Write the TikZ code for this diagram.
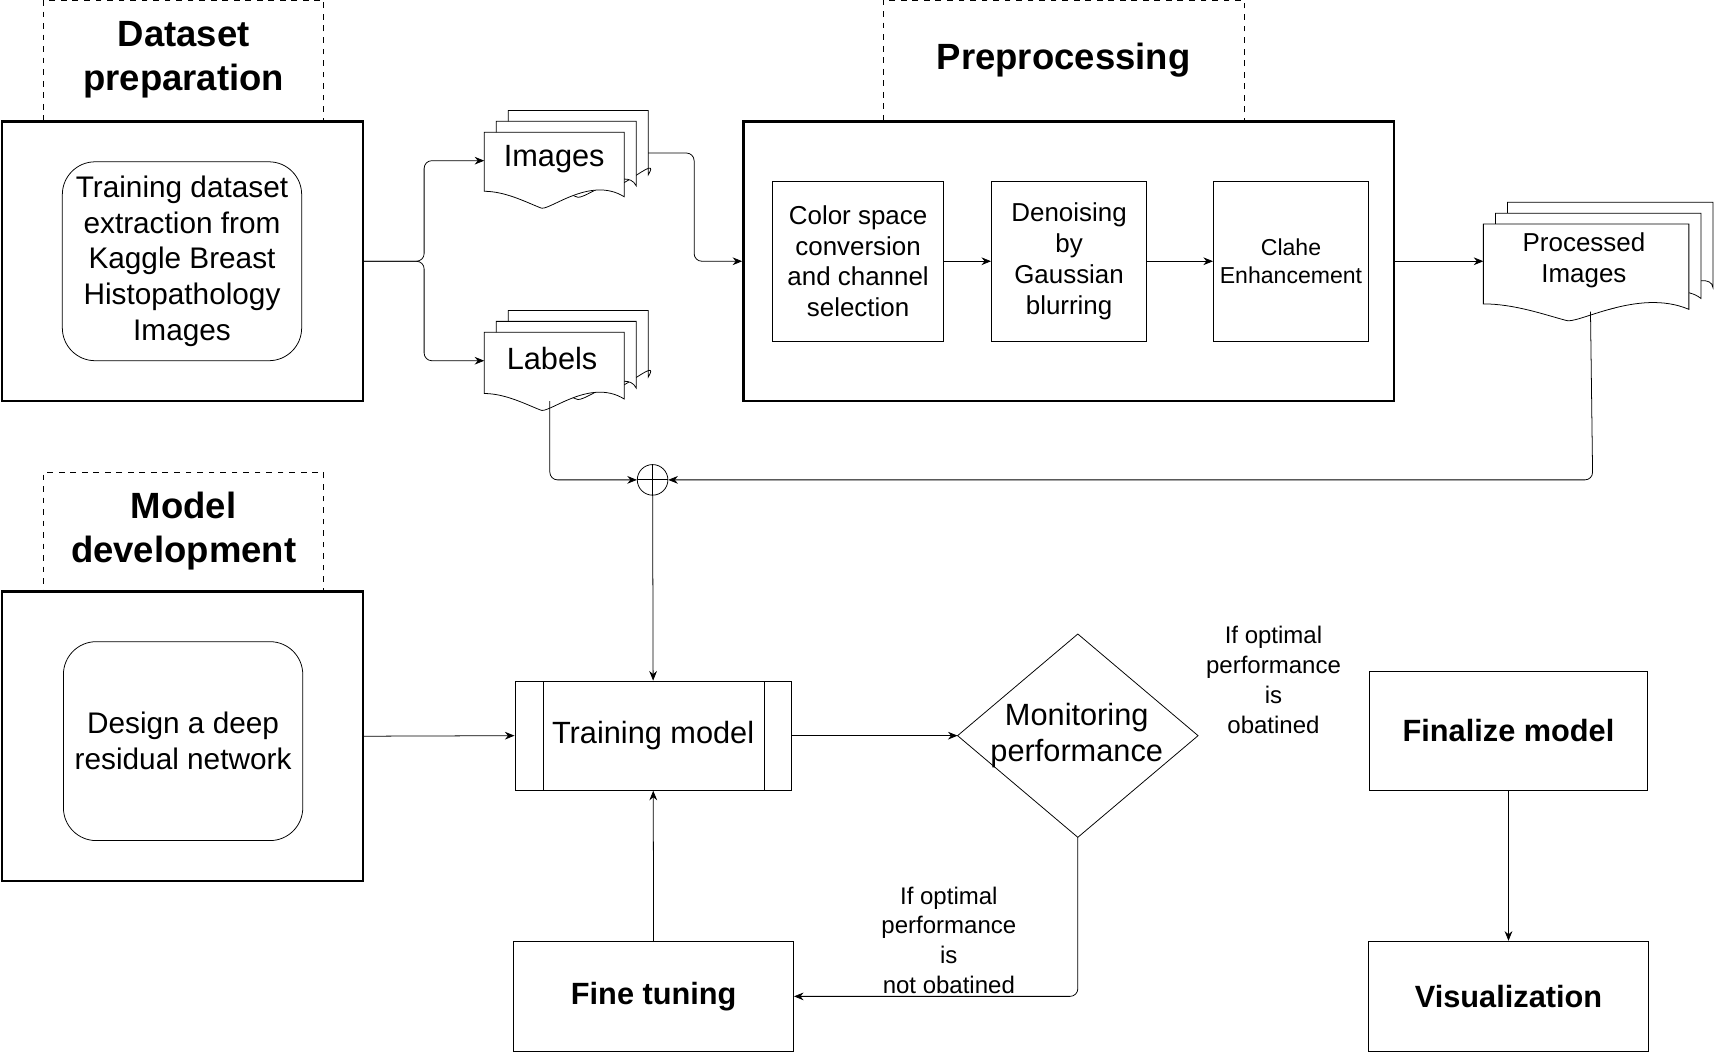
\documentclass[tikz,border=0pt]{standalone}
\usepackage{fontspec}
\setmainfont{Liberation Sans}
\usetikzlibrary{arrows.meta}
\tikzset{
  box/.style={draw, inner sep=0pt, align=center},
  bigbox/.style={box, line width=1.2pt},
  tagbox/.style={box, dashed, font=\fontsize{19}{23}\selectfont\bfseries},
  round/.style={box, rounded corners=0.6cm, font=\fontsize{15.5}{18.6}\selectfont},
  small/.style={box, font=\fontsize{13.5}{16}\selectfont},
  note/.style={align=center, font=\fontsize{12.5}{15.5}\selectfont},
  conn/.style={-{Stealth[length=5pt,width=4pt]}, rounded corners=4pt},
}
% document stack: front x1 y1 x2 y2
\newcommand\docpath[4]{%
  \filldraw[fill=white] (#1,#2) -- (#3,#2) -- (#3,#4-10)
    .. controls (#1+0.75*#3-0.75*#1,#4-30) and (#1+0.45*#3-0.45*#1,#4+5) .. (#1+0.4*#3-0.4*#1,#4)
    .. controls (#1+0.3*#3-0.3*#1,#4-5) and (#1+0.15*#3-0.15*#1,#4-15) .. (#1,#4-15) -- cycle;}
\newcommand\docstack[4]{%
  \docpath{#1+22}{#2-20}{#3+22}{#4-20}
  \docpath{#1+11}{#2-10}{#3+11}{#4-10}
  \docpath{#1}{#2}{#3}{#4}}
\begin{document}
\begin{tikzpicture}[x=0.02cm, y=-0.02cm]
\useasboundingbox (0,0) rectangle (1568,962);
% dataset preparation
\node[tagbox, minimum width=5.12cm, minimum height=2.2cm] (dtag) at (168,55) {Dataset\\preparation};
\node[bigbox, minimum width=6.6cm, minimum height=5.12cm] (dset) at (167,239) {};
\node[round, minimum width=4.38cm, minimum height=3.64cm] (dtext) at (166.5,239)
  {Training dataset\\extraction from\\Kaggle Breast\\Histopathology\\Images};
% images and labels
\docstack{443}{121}{571}{190}
\node[font=\fontsize{16}{19}\selectfont] (img) at (507,146) {Images};
\coordinate (imgw) at (443,147);
\coordinate (imge) at (593,140);
\docstack{443}{304}{571}{375}
\node[font=\fontsize{16}{19}\selectfont] (lab) at (505,328) {Labels};
\coordinate (labw) at (443,330);
\coordinate (labs) at (503,367);
% preprocessing
\node[tagbox, minimum width=6.6cm, minimum height=2.2cm] (ptag) at (973,55) {Preprocessing};
\node[bigbox, minimum width=11.9cm, minimum height=5.12cm] (prep) at (977.5,239) {};
\node[small, minimum width=3.12cm, minimum height=2.92cm] (color) at (785,239) {Color space\\conversion\\and channel\\selection};
\node[small, minimum width=2.84cm, minimum height=2.92cm] (denoise) at (978,239) {Denoising\\by\\Gaussian\\blurring};
\node[box, font=\fontsize{12}{15}\selectfont, minimum width=2.84cm, minimum height=2.92cm] (clahe) at (1181,239) {Clahe\\Enhancement};
% processed images
\docstack{1357}{205}{1545}{293}
\node[note, font=\fontsize{13.5}{16}\selectfont] (proc) at (1449,238) {Processed\\Images};
\coordinate (procw) at (1357,239);
\coordinate (procs) at (1455,285);
% merge
\node[draw, circle, minimum size=0.56cm, inner sep=0pt] (sum) at (597,439) {};
\draw (sum.north) -- (sum.south) (sum.west) -- (sum.east);
% model development
\node[tagbox, minimum width=5.12cm, minimum height=2.16cm] (mtag) at (168,486) {Model\\development};
\node[bigbox, minimum width=6.6cm, minimum height=5.3cm] (mdev) at (167,673.5) {};
\node[round, minimum width=4.38cm, minimum height=3.64cm] (mtext) at (167.5,678) {Design a deep\\residual network};
% training loop
\node[box, font=\fontsize{16}{19}\selectfont, minimum width=5.06cm, minimum height=2cm] (train) at (597.5,673) {Training model};
\draw (497,623) -- (497,723) (699,623) -- (699,723);
\draw (876,673) -- (986,580) -- (1096,673) -- (986,766) -- cycle;
\coordinate (monw) at (876,673);
\coordinate (mons) at (986,766);
\node[font=\fontsize{16}{19}\selectfont, align=center] (mon) at (985,673) {Monitoring\\performance};
\node[note] (yes) at (1165,622) {If optimal\\performance\\is\\obatined};
\node[box, font=\fontsize{16}{19}\selectfont\bfseries, minimum width=5.08cm, minimum height=2.18cm] (final) at (1380,668.5) {Finalize model};
\node[box, font=\fontsize{16}{19}\selectfont\bfseries, minimum width=5.12cm, minimum height=2.02cm] (vis) at (1380,911.5) {Visualization};
\node[box, font=\fontsize{16}{19}\selectfont\bfseries, minimum width=5.12cm, minimum height=2.02cm] (fine) at (598,911.5) {Fine tuning};
\node[note] (no) at (868,860) {If optimal\\performance\\is\\not obatined};
% connectors
\draw[conn] (dset.east) -- (388,239) |- (imgw);
\draw[conn] (dset.east) -- (388,239) |- (labw);
\draw[conn] (imge) -- (635,140) |- (prep.west);
\draw[conn] (color) -- (denoise);
\draw[conn] (denoise) -- (clahe);
\draw[conn] (prep.east) -- (procw);
\draw[conn] (labs) |- (sum.west);
\draw[conn] (procs) -- (1457,439) -- (sum.east);
\draw[conn] (sum) -- (train.north);
\draw[conn] (mdev.east) -- (train.west);
\draw[conn] (train.east) -- (monw);
\draw[conn] (mons) |- (fine.east);
\draw[conn] (fine) -- (train);
\draw[conn] (final) -- (vis);
\end{tikzpicture}
\end{document}
